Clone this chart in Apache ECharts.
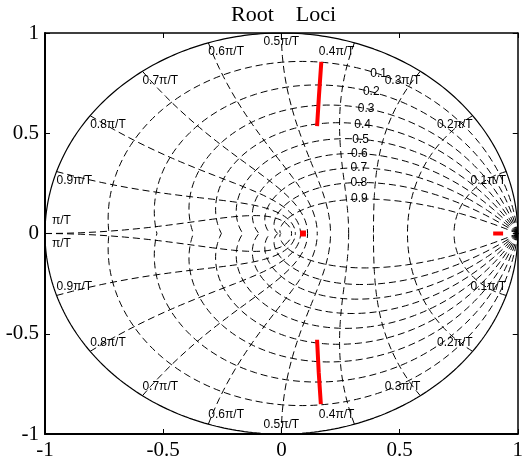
<!DOCTYPE html>
<html><head><meta charset="utf-8">
<script src="https://cdn.jsdelivr.net/npm/echarts@6/dist/echarts.min.js"></script>
<style>html,body{margin:0;padding:0;background:#fff}#c{width:526px;height:466px}</style>
</head><body><div id="c"></div>
<script>
// ---- data ----
const titleText = 'Root    Loci';
const xTicks = [-1, -0.5, 0, 0.5, 1];
const yTicks = [-1, -0.5, 0, 0.5, 1];
const zetaValues = [0.1, 0.2, 0.3, 0.4, 0.5, 0.6, 0.7, 0.8, 0.9];
const zetaLabels = ['0.1', '0.2', '0.3', '0.4', '0.5', '0.6', '0.7', '0.8', '0.9'];
const wnValues = [0.1, 0.2, 0.3, 0.4, 0.5, 0.6, 0.7, 0.8, 0.9, 1.0]; // in units of pi/T
const wnLabels = ['0.1\u03c0/T', '0.2\u03c0/T', '0.3\u03c0/T', '0.4\u03c0/T', '0.5\u03c0/T',
                  '0.6\u03c0/T', '0.7\u03c0/T', '0.8\u03c0/T', '0.9\u03c0/T', '\u03c0/T'];
// root locus branches
const locusUpperX = [0.169, 0.159, 0.151];
const locusUpperY = [0.856, 0.686, 0.535];
const locusLowerX = [0.151, 0.158, 0.167];
const locusLowerY = [-0.530, -0.693, -0.851];
const locusRealAX = [0.079, 0.104];
const locusRealBX = [0.896, 0.938];

// ---- build grid curves (zgrid) ----
const PI = Math.PI;
function zetaCurve(z, sign) {
  const m = Math.tan(Math.asin(z));
  const pts = [];
  for (let i = 0; i <= 120; i++) {
    const th = PI * i / 120;
    const r = Math.exp(-m * th);
    pts.push([r * Math.cos(th), sign * r * Math.sin(th)]);
  }
  return pts;
}
function wnCurve(w, sign) {
  const pts = [];
  for (let i = 0; i <= 60; i++) {
    const phi = PI / 2 + (PI / 2) * i / 60;
    const re = w * Math.cos(phi), im = w * Math.sin(phi);
    const r = Math.exp(re);
    pts.push([r * Math.cos(im), sign * r * Math.sin(im)]);
  }
  return pts;
}
const circle = [];
for (let i = 0; i <= 360; i++) { const t = 2 * PI * i / 360; circle.push([Math.cos(t), Math.sin(t)]); }

const dashStyle = { color: '#000', width: 1, type: [7, 4] };
const series = [];
function lineSeries(data, style) {
  series.push({ type: 'line', data: data, showSymbol: false, symbol: 'none', silent: true,
    lineStyle: style, xAxisIndex: 0, yAxisIndex: 0, animation: false, clip: true });
}
zetaValues.forEach(z => { lineSeries(zetaCurve(z, 1), dashStyle); lineSeries(zetaCurve(z, -1), dashStyle); });
wnValues.forEach(w => { lineSeries(wnCurve(w * PI, 1), dashStyle); lineSeries(wnCurve(w * PI, -1), dashStyle); });
lineSeries(circle, { color: '#000', width: 1.2, type: 'solid' });

const red = { color: '#ff0000', width: 4, type: 'solid', cap: 'butt' };
lineSeries(locusUpperX.map((x, i) => [x, locusUpperY[i]]), red);
lineSeries(locusLowerX.map((x, i) => [x, locusLowerY[i]]), red);
lineSeries(locusRealAX.map(x => [x, 0]), { color: '#ff0000', width: 6, type: 'solid', cap: 'butt' });
lineSeries(locusRealBX.map(x => [x, 0]), red);

// ---- labels ----
const labelItems = [];
const zetaLabelWn = 0.35 * PI;
zetaValues.forEach((z, i) => {
  const s = Math.sqrt(1 - z * z);
  const r = Math.exp(-z * zetaLabelWn), th = zetaLabelWn * s;
  labelItems.push({ x: r * Math.cos(th), y: r * Math.sin(th), text: zetaLabels[i], align: 'center', va: 'middle', dx: 0, dy: 0 });
});
wnValues.forEach((w, i) => {
  const a = w * PI;
  const cx = Math.cos(a), cy = Math.sin(a);
  if (w >= 1) {
    labelItems.push({ x: -1, y: 0, text: wnLabels[i], align: 'left', va: 'bottom', dx: 7, dy: -7 });
    labelItems.push({ x: -1, y: 0, text: wnLabels[i], align: 'left', va: 'top', dx: 7, dy: 4 });
    return;
  }
  const al = w < 0.5 ? 'right' : (w > 0.5 ? 'left' : 'center');
  labelItems.push({ x: cx, y: cy, text: wnLabels[i], align: al, va: 'top', dx: 0, dy: 3 });
  labelItems.push({ x: cx, y: -cy, text: wnLabels[i], align: al, va: 'bottom', dx: 0, dy: -3 });
});
series.push({
  type: 'custom', silent: true, animation: false, clip: false,
  data: labelItems.map(it => [it.x, it.y]),
  encode: { x: 0, y: 1 },
  renderItem: function (params, api) {
    const it = labelItems[params.dataIndex];
    const p = api.coord([api.value(0), api.value(1)]);
    return { type: 'text', x: p[0] + it.dx, y: p[1] + it.dy,
      style: { text: it.text, align: it.align, verticalAlign: it.va,
        fontSize: 12, fontFamily: '"Liberation Sans", Arial, sans-serif', fill: '#000' } };
  }
});

const tickFont = { fontFamily: '"Liberation Serif", "Times New Roman", serif', fontSize: 21, color: '#000' };
const chart = echarts.init(document.getElementById('c'), null, { renderer: 'canvas' });
chart.setOption({
  animation: false,
  backgroundColor: '#fff',
  title: { text: titleText, left: 231, top: 4, padding: 0,
    textStyle: { fontFamily: '"Liberation Serif", "Times New Roman", serif', fontSize: 22, fontWeight: 'normal', color: '#000' } },
  grid: { left: 45, top: 33, width: 482, height: 401 },
  xAxis: [
    { type: 'value', min: xTicks[0], max: xTicks[xTicks.length - 1], interval: 0.5, position: 'bottom',
      axisLine: { show: true, onZero: false, lineStyle: { color: '#000', width: 2 } },
      axisTick: { show: true, inside: true, length: 5, lineStyle: { color: '#000', width: 1 } },
      axisLabel: Object.assign({ margin: 6, formatter: v => String(v) }, tickFont), splitLine: { show: false } },
    { type: 'value', min: xTicks[0], max: xTicks[xTicks.length - 1], interval: 0.5, position: 'top',
      axisLine: { show: true, onZero: false, lineStyle: { color: '#000', width: 1.5 } },
      axisTick: { show: true, inside: true, length: 5, lineStyle: { color: '#000', width: 1 } },
      axisLabel: { show: false }, splitLine: { show: false } }
  ],
  yAxis: [
    { type: 'value', min: yTicks[0], max: yTicks[yTicks.length - 1], interval: 0.5, position: 'left',
      axisLine: { show: true, onZero: false, lineStyle: { color: '#000', width: 2 } },
      axisTick: { show: true, inside: true, length: 5, lineStyle: { color: '#000', width: 1 } },
      axisLabel: Object.assign({ margin: 6, formatter: v => String(v) }, tickFont), splitLine: { show: false } },
    { type: 'value', min: yTicks[0], max: yTicks[yTicks.length - 1], interval: 0.5, position: 'right',
      axisLine: { show: true, onZero: false, lineStyle: { color: '#000', width: 1.5 } },
      axisTick: { show: true, inside: true, length: 5, lineStyle: { color: '#000', width: 1 } },
      axisLabel: { show: false }, splitLine: { show: false } }
  ],
  series: series
});
</script></body></html>
